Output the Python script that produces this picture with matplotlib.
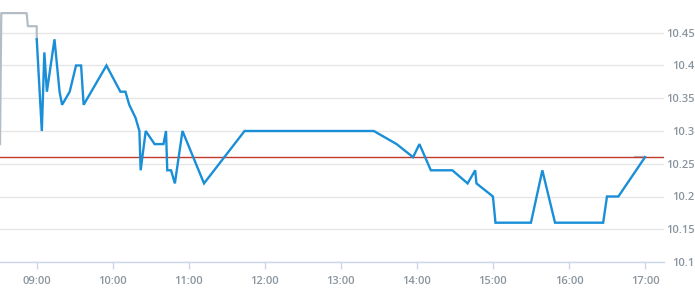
import matplotlib
matplotlib.use("Agg")
import matplotlib.pyplot as plt
from matplotlib.ticker import FixedLocator, FuncFormatter

# Pre/post market (gray) series
pre_times = ["08:31", "08:32", "08:52", "08:53", "09:00", "09:00"]
pre_values = [10.28, 10.48, 10.48, 10.46, 10.46, 10.44]
post_times = ["16:52", "17:00"]
post_values = [10.26, 10.26]

# Session (blue) series
times = ["09:00", "09:04", "09:06", "09:08", "09:14", "09:18", "09:20", "09:26",
         "09:31", "09:35", "09:37", "09:55", "10:06", "10:10", "10:13", "10:18",
         "10:21", "10:22", "10:26", "10:33", "10:40", "10:42", "10:43", "10:46",
         "10:49", "10:55", "11:12", "11:44", "13:26", "13:44", "13:57", "14:02",
         "14:11", "14:28", "14:40", "14:46", "14:47", "15:00", "15:02", "15:30",
         "15:39", "15:49", "16:27", "16:30", "16:39", "17:00"]
values = [10.44, 10.30, 10.42, 10.36, 10.44, 10.36, 10.34, 10.36,
          10.40, 10.40, 10.34, 10.40, 10.36, 10.36, 10.34, 10.32,
          10.30, 10.24, 10.30, 10.28, 10.28, 10.30, 10.24, 10.24,
          10.22, 10.30, 10.22, 10.30, 10.30, 10.28, 10.26, 10.28,
          10.24, 10.24, 10.22, 10.24, 10.22, 10.20, 10.16, 10.16,
          10.24, 10.16, 10.16, 10.20, 10.20, 10.26]

prev_close = 10.26
x_ticks = ["09:00", "10:00", "11:00", "12:00", "13:00", "14:00", "15:00", "16:00", "17:00"]
y_ticks = [10.1, 10.15, 10.2, 10.25, 10.3, 10.35, 10.4, 10.45]


def to_min(t):
    h, m = t.split(":")
    return int(h) * 60 + int(m)


fig = plt.figure(figsize=(6.95, 3.0), dpi=100)
ax = fig.add_axes([0, 1 - 262 / 300, 664 / 695, 262 / 300])

label_color = "#8a949e"
ax.set_xlim(to_min("08:31"), to_min("17:15"))
ax.set_ylim(10.1, 10.5)

for yv in y_ticks:
    ax.axhline(yv, color="#e6e6e6", lw=1, zorder=0)

ax.plot([to_min(t) for t in pre_times], pre_values, color="#b4bdc6", lw=1.6, zorder=2)
ax.plot([to_min(t) for t in post_times], post_values, color="#b4bdc6", lw=1.6, zorder=2)
ax.axhline(prev_close, color="#c0392b", lw=1.0, zorder=3)
ax.plot([to_min(t) for t in times], values, color="#1a8fd8", lw=1.7, zorder=4,
        solid_joinstyle="miter")

for s in ["top", "left", "right"]:
    ax.spines[s].set_visible(False)
ax.spines["bottom"].set_color("#ccd6eb")
ax.spines["bottom"].set_linewidth(1)

ax.xaxis.set_major_locator(FixedLocator([to_min(t) for t in x_ticks]))
ax.set_xticklabels(x_ticks)
ax.tick_params(axis="x", length=5, color="#ccd6eb", width=1, pad=5,
               labelcolor=label_color, labelsize=8)

ax.yaxis.tick_right()
ax.yaxis.set_major_locator(FixedLocator(y_ticks))
ax.yaxis.set_major_formatter(FuncFormatter(lambda v, p: f"{v:g}"))
ax.tick_params(axis="y", length=0, pad=22, labelcolor=label_color, labelsize=8)
for lab in ax.get_yticklabels():
    lab.set_horizontalalignment("right")

for lab in ax.get_xticklabels() + ax.get_yticklabels():
    lab.set_fontfamily("Open Sans")
    lab.set_fontweight("semibold")

ax.patch.set_visible(False)
fig.savefig("out.png", dpi=100)
